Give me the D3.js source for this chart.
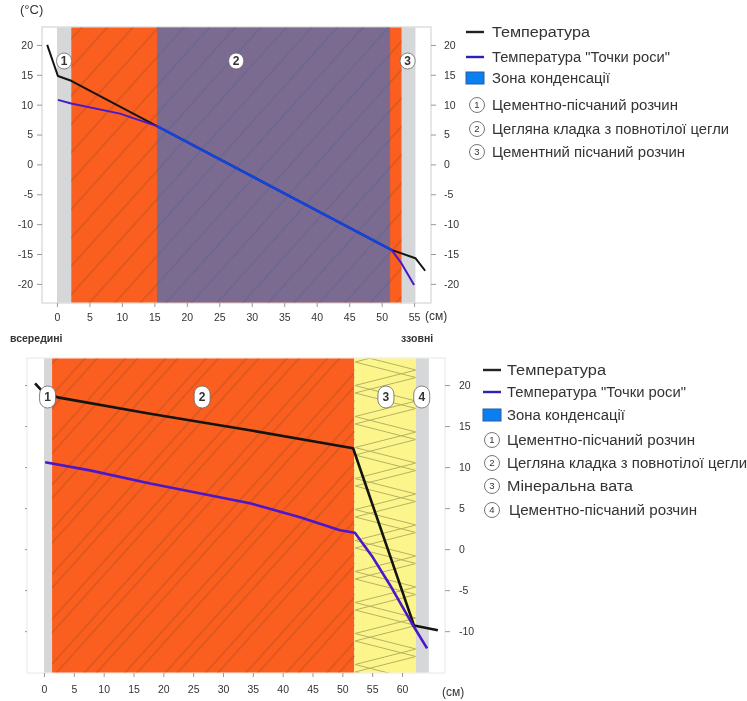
<!DOCTYPE html>
<html>
<head>
<meta charset="utf-8">
<script src="https://cdn.jsdelivr.net/npm/d3@7"></script>
<style>
  html, body { margin: 0; background: #fff; }
  svg { display: block; filter: blur(0.6px); }
  text { font-family: "Liberation Sans", Arial, sans-serif; fill: #333; }
  .domain { display: none; }
  .tick line { stroke: #999; }
  .tick text { font-size: 10.5px; fill: #333; }
</style>
</head>
<body>
<svg id="chart" width="747" height="701"></svg>
<script>
// top wall, temperature and dew point by depth in cm
const topTempX = [-1.5, 0.15, 2.2, 15.4, 51.5, 55.2, 56.7];
const topTempY = [20, 14.8, 14, 6.4, -14.3, -15.7, -17.8];
const topDewX = [0.15, 2.2, 9.7, 15.4, 51.5, 52.9, 55];
const topDewY = [10.8, 10.2, 8.5, 6.4, -14.3, -16.3, -20.2];
const topCondensX = [15.4, 51.5];
const topCondensY = [6.4, -14.3];
const topLayers = [
  { from: 0, to: 2.2, kind: 'plaster', label: '1', labelAt: 1.1 },
  { from: 2.2, to: 53.1, kind: 'brick', label: '2', labelAt: 27.6 },
  { from: 53.1, to: 55.2, kind: 'plaster', label: '3', labelAt: 54 }
];
const topZone = [15.4, 51.3];
const topXTicks = [0, 5, 10, 15, 20, 25, 30, 35, 40, 45, 50, 55];
const topYTicks = [20, 15, 10, 5, 0, -5, -10, -15, -20];
const topLegend = ['Цементно-пісчаний розчин', 'Цегляна кладка з повнотілої цегли', 'Цементний пісчаний розчин'];

// bottom wall, with mineral wool
const botTempX = [-1.5, -0.5, 2.3, 17.8, 34.5, 51.8, 62, 66];
const botTempY = [20.2, 19.4, 18.5, 16.5, 14.5, 12.3, -9.3, -9.9];
const botDewX = [0.2, 7.7, 17.8, 34.5, 42.9, 49.6, 52.1, 55.1, 58, 61.6, 64.2];
const botDewY = [10.6, 9.6, 8.0, 5.6, 3.9, 2.3, 2, -1, -4.4, -9, -12.1];
const botLayers = [
  { from: 0, to: 1.35, kind: 'plaster', label: '1', labelAt: 0.6 },
  { from: 1.35, to: 52, kind: 'brick', label: '2', labelAt: 26.5 },
  { from: 52, to: 62.3, kind: 'wool', label: '3', labelAt: 57.3 },
  { from: 62.3, to: 64.5, kind: 'plaster', label: '4', labelAt: 63.3 }
];
const botXTicks = [0, 5, 10, 15, 20, 25, 30, 35, 40, 45, 50, 55, 60];
const botYTicks = [20, 15, 10, 5, 0, -5, -10];
const botLegend = ['Цементно-пісчаний розчин', 'Цегляна кладка з повнотілої цегли', 'Мінеральна вата', 'Цементно-пісчаний розчин'];

const legendMain = ['Температура', 'Температура "Точки роси"', 'Зона конденсації'];

const svg = d3.select('#chart');
const defs = svg.append('defs');

// brick hatching
function hatch(id, spacing, second) {
  const p = defs.append('pattern').attr('id', id)
    .attr('patternUnits', 'userSpaceOnUse')
    .attr('width', spacing).attr('height', spacing)
    .attr('patternTransform', 'rotate(42)');
  p.append('line').attr('x1', 3).attr('x2', 3).attr('y1', 0).attr('y2', spacing)
    .attr('stroke', '#b84c1e').attr('stroke-width', 0.8);
  if (second) {
    p.append('line').attr('x1', second).attr('x2', second).attr('y1', 0).attr('y2', spacing)
      .attr('stroke', '#b84c1e').attr('stroke-width', 0.8);
  }
}
hatch('hatchTop', 19);
hatch('hatchBot', 30, 12);

// mineral wool zigzag, tile is set up for the bottom wall
const wool = defs.append('pattern').attr('id', 'wool')
  .attr('patternUnits', 'userSpaceOnUse')
  .attr('x', 355).attr('y', 362)
  .attr('width', 61).attr('height', 62);
wool.append('path').attr('d', 'M0,0L61,15.5L0,31L61,46.5L0,62')
  .attr('fill', 'none').attr('stroke', '#b5b162').attr('stroke-width', 1);
wool.append('path').attr('d', 'M61,8L0,23.5L61,39L0,54.5L61,70M0,-7.5L61,8')
  .attr('fill', 'none').attr('stroke', '#b5b162').attr('stroke-width', 1);

const layerFill = { plaster: '#d6d7d8', brick: '#fb5f20', wool: '#fbf58c' };

function panel(o) {
  const x = d3.scaleLinear().domain(o.xDomain).range([o.left, o.right]);
  const y = d3.scaleLinear().domain(o.yDomain).range([o.bottom, o.top]);
  const g = svg.append('g');

  g.append('rect').attr('x', o.left).attr('y', o.top)
    .attr('width', o.right - o.left).attr('height', o.bottom - o.top)
    .attr('fill', '#fff').attr('stroke', o.frame);

  o.layers.forEach(l => {
    const r = { x: x(l.from), y: o.top + 0.5, width: x(l.to) - x(l.from), height: o.bottom - o.top - 1 };
    const rect = s => g.append('rect').attr('x', r.x).attr('y', r.y)
      .attr('width', r.width).attr('height', r.height).attr('fill', s);
    rect(layerFill[l.kind]);
    if (l.kind === 'brick') rect(`url(#${o.hatch})`);
    if (l.kind === 'wool') rect('url(#wool)');
  });

  // condensation zone tints whatever is under it
  if (o.zone) {
    g.append('rect').attr('x', x(o.zone[0])).attr('y', o.top + 0.5)
      .attr('width', x(o.zone[1]) - x(o.zone[0])).attr('height', o.bottom - o.top - 1)
      .attr('fill', '#0078ff').attr('opacity', 0.51);
  }

  g.append('g').attr('transform', `translate(0,${o.bottom})`)
    .call(d3.axisBottom(x).tickValues(o.xTicks).tickSize(4).tickPadding(o.xPad).tickFormat(d3.format('d')));
  // the lower panel keeps only tick marks on the left
  g.append('g').attr('transform', `translate(${o.left},0)`)
    .call(d3.axisLeft(y).tickValues(o.yTicks).tickSize(o.leftLabels ? 5 : 2).tickPadding(4)
      .tickFormat(d => o.leftLabels ? String(d) : ''));
  g.append('g').attr('transform', `translate(${o.right},0)`)
    .call(d3.axisRight(y).tickValues(o.yTicks).tickSize(5).tickPadding(o.rightPad).tickFormat(d => String(d)));

  const line = d3.line().x(d => x(d[0])).y(d => y(d[1]));
  const series = (xs, ys, color, w) => g.append('path')
    .datum(d3.zip(xs, ys)).attr('d', line)
    .attr('fill', 'none').attr('stroke', color).attr('stroke-width', w).attr('stroke-linejoin', 'round');
  series(o.tempX, o.tempY, '#141414', o.lineW);
  series(o.dewX, o.dewY, '#4a18c8', o.lineW);
  if (o.condensX) series(o.condensX, o.condensY, '#1244d8', 2.6);

  o.layers.forEach(l => {
    const b = g.append('g').attr('transform', `translate(${x(l.labelAt)},${o.labelY})`);
    b.append('rect').attr('x', -o.badge[0]).attr('y', -o.badge[1])
      .attr('width', o.badge[0] * 2).attr('height', o.badge[1] * 2)
      .attr('rx', o.badge[0]).attr('ry', o.badge[0])
      .attr('fill', '#fff').attr('stroke', '#666').attr('stroke-width', 0.8);
    b.append('text').attr('text-anchor', 'middle').attr('dy', '0.36em')
      .attr('font-size', 12).attr('font-weight', 'bold').text(l.label);
  });
}

function legend(o) {
  const g = svg.append('g');
  const colors = ['#222', '#2a22b8'];
  legendMain.forEach((t, i) => {
    const yy = o.mainY[i];
    if (i < 2) {
      g.append('line').attr('x1', o.sx0).attr('x2', o.sx1).attr('y1', yy).attr('y2', yy)
        .attr('stroke', colors[i]).attr('stroke-width', 2.4);
    } else {
      g.append('rect').attr('x', o.sx0).attr('y', yy - 6).attr('width', o.sx1 - o.sx0).attr('height', 12)
        .attr('fill', '#0a80f0').attr('stroke', '#2a5aa0');
    }
    g.append('text').attr('x', o.tx).attr('y', yy).attr('dy', '0.35em')
      .attr('font-size', o.fs).attr('textLength', o.mainLen[i]).attr('lengthAdjust', 'spacingAndGlyphs').text(t);
  });
  o.items.forEach((t, i) => {
    const yy = o.itemY[i];
    g.append('circle').attr('cx', o.cx).attr('cy', yy).attr('r', 7.5)
      .attr('fill', '#fff').attr('stroke', '#777');
    g.append('text').attr('x', o.cx).attr('y', yy).attr('dy', '0.36em').attr('text-anchor', 'middle')
      .attr('font-size', 9.5).text(i + 1);
    g.append('text').attr('x', o.tx + (o.itemShift ? o.itemShift[i] : 0)).attr('y', yy).attr('dy', '0.35em')
      .attr('font-size', o.fs).attr('textLength', o.itemLen[i]).attr('lengthAdjust', 'spacingAndGlyphs').text(t);
  });
}

panel({
  left: 42, right: 431, top: 27, bottom: 303, frame: '#ccd0cc',
  xDomain: [-2.3, 57.6], yDomain: [-23.2, 23],
  xTicks: topXTicks, yTicks: topYTicks, xPad: 7, rightPad: 8, leftLabels: true,
  layers: topLayers, zone: topZone, hatch: 'hatchTop', lineW: 2,
  tempX: topTempX, tempY: topTempY, dewX: topDewX, dewY: topDewY,
  condensX: topCondensX, condensY: topCondensY,
  labelY: 61, badge: [7.5, 8]
});

panel({
  left: 27, right: 445, top: 358, bottom: 673, frame: '#e6e9e6',
  xDomain: [-2.85, 67.2], yDomain: [-15.1, 23.3],
  xTicks: botXTicks, yTicks: botYTicks, xPad: 9, rightPad: 9, leftLabels: false,
  layers: botLayers, hatch: 'hatchBot', lineW: 2.6,
  tempX: botTempX, tempY: botTempY, dewX: botDewX, dewY: botDewY,
  labelY: 397, badge: [8, 11]
});

legend({
  sx0: 466, sx1: 484, tx: 492, cx: 477, fs: 14,
  mainY: [32, 57, 78], itemY: [105, 129, 152],
  mainLen: [98, 178, 118], itemLen: [186, 237, 193],
  items: topLegend
});
legend({
  sx0: 483, sx1: 501, tx: 507, cx: 492, fs: 14,
  mainY: [370, 392, 415], itemY: [440, 463, 486, 510],
  mainLen: [99, 179, 118], itemLen: [188, 240, 126, 188],
  itemShift: [0, 0, 0, 2],
  items: botLegend
});

const note = (t, xx, yy, size, bold) => svg.append('text').attr('x', xx).attr('y', yy)
  .attr('font-size', size).attr('font-weight', bold ? 'bold' : 'normal').text(t);
note('(°C)', 20, 14, 13);
note('(см)', 425, 320, 12);
note('всередині', 10, 342, 10.5, true);
note('ззовні', 401, 342, 10.5, true);
note('(см)', 442, 696, 12);
</script>
</body>
</html>
